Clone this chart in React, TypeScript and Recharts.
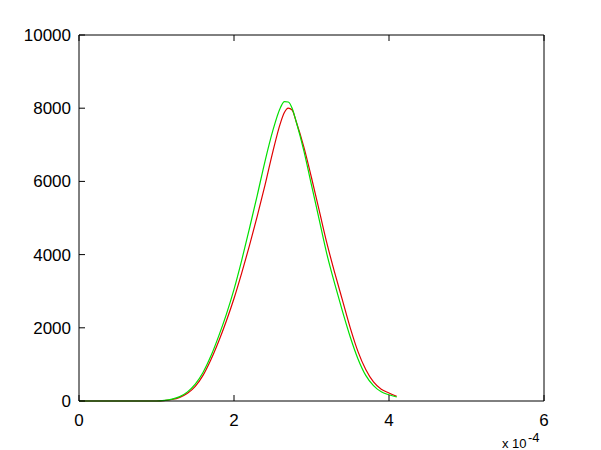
import { LineChart, Line, XAxis, YAxis } from 'recharts';

// x in units of 1e-4
const xValues = [
  0, 1.0, 1.1, 1.2, 1.3, 1.4, 1.5, 1.6, 1.7, 1.8, 1.9, 2.0, 2.1, 2.2, 2.3, 2.4, 2.5, 2.6,
  2.65, 2.7, 2.75, 2.8, 2.9, 3.0, 3.1, 3.2, 3.3, 3.4, 3.5, 3.6, 3.7, 3.8, 3.9, 4.0, 4.1,
];
const redSeries = [
  0, 0, 10, 40, 100, 210, 400, 700, 1120, 1620, 2180, 2800, 3500, 4250, 5050, 5900, 6800, 7600,
  7880, 8000, 7950, 7650, 6950, 6100, 5200, 4300, 3500, 2750, 2000, 1350, 860, 520, 320, 220, 130,
];
const greenSeries = [
  0, 0, 15, 50, 120, 250, 460, 780, 1220, 1760, 2360, 3050, 3850, 4720, 5620, 6550, 7380, 8020,
  8180, 8170, 8000, 7650, 6850, 5900, 4950, 4000, 3200, 2450, 1750, 1150, 700, 420, 250, 170, 110,
];
const xTicks = [0, 2, 4, 6];
const yTicks = [0, 2000, 4000, 6000, 8000, 10000];

const data = xValues.map((x, i) => ({ x, red: redSeries[i], green: greenSeries[i] }));

const font = { fontFamily: '"Liberation Sans", Arial, sans-serif', fontSize: 17, fill: '#000' };

const BottomTick = ({ x, y, payload }: any) => (
  <g>
    <line x1={x} y1={y} x2={x} y2={y - 6} stroke="#000" />
    <text x={x} y={y + 25} textAnchor="middle" {...font}>
      {payload.value}
    </text>
  </g>
);
const TopTick = ({ x, y }: any) => <line x1={x} y1={y} x2={x} y2={y + 6} stroke="#000" />;
const LeftTick = ({ x, y, payload }: any) => (
  <g>
    <line x1={x} y1={y} x2={x + 6} y2={y} stroke="#000" />
    <text x={x - 8} y={y + 6} textAnchor="end" {...font}>
      {payload.value}
    </text>
  </g>
);
const RightTick = ({ x, y }: any) => <line x1={x} y1={y} x2={x - 6} y2={y} stroke="#000" />;

const Multiplier = ({ viewBox }: any) => {
  const right = viewBox.x + viewBox.width;
  return (
    <g>
      <text x={right - 42} y={448} {...font} fontSize={13}>
        x 10
      </text>
      <text x={right - 16} y={442} {...font} fontSize={13}>
        -4
      </text>
    </g>
  );
};

const App = () => {
  return (
    <div style={{ position: 'absolute', left: 0, top: 0, width: 601, height: 450, background: '#fff' }}>
      <LineChart width={601} height={450} data={data} margin={{ top: 0, right: 0, left: 0, bottom: 0 }}>
        <XAxis
          xAxisId="b"
          dataKey="x"
          type="number"
          domain={[0, 6]}
          ticks={xTicks}
          height={49}
          stroke="#000"
          tickLine={false}
          tickSize={0}
          tickMargin={0}
          tick={BottomTick}
          label={<Multiplier />}
        />
        <XAxis
          xAxisId="t"
          orientation="top"
          dataKey="x"
          type="number"
          domain={[0, 6]}
          ticks={xTicks}
          height={35}
          stroke="#000"
          tickLine={false}
          tickSize={0}
          tickMargin={0}
          tick={TopTick}
        />
        <YAxis
          yAxisId="l"
          type="number"
          domain={[0, 10000]}
          ticks={yTicks}
          width={79}
          stroke="#000"
          tickLine={false}
          tickSize={0}
          tickMargin={0}
          tick={LeftTick}
        />
        <YAxis
          yAxisId="r"
          orientation="right"
          type="number"
          domain={[0, 10000]}
          ticks={yTicks}
          width={57}
          stroke="#000"
          tickLine={false}
          tickSize={0}
          tickMargin={0}
          tick={RightTick}
        />
        <Line
          xAxisId="b"
          yAxisId="l"
          type="monotone"
          dataKey="red"
          stroke="#e00000"
          strokeWidth={1.2}
          dot={false}
          isAnimationActive={false}
        />
        <Line
          xAxisId="b"
          yAxisId="l"
          type="monotone"
          dataKey="green"
          stroke="#00e000"
          strokeWidth={1.2}
          dot={false}
          isAnimationActive={false}
        />
      </LineChart>
    </div>
  );
};

export default App;
